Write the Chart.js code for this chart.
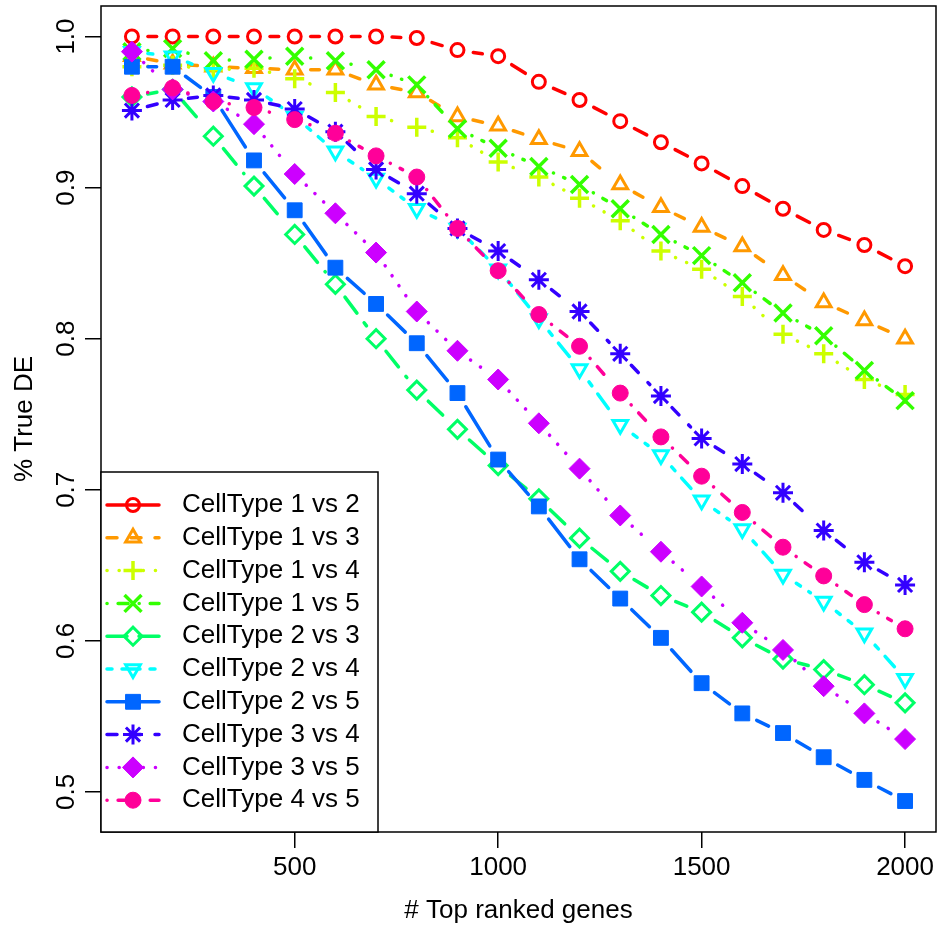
<!DOCTYPE html>
<html>
<head>
<meta charset="utf-8">
<script src="https://cdn.jsdelivr.net/npm/chart.js@4.4.1/dist/chart.umd.min.js"></script>
<style>
  html, body { margin: 0; padding: 0; background: #fff; }
  #wrap { width: 939px; height: 930px; }
</style>
</head>
<body>
<div id="wrap"><canvas id="chart" width="939" height="930"></canvas></div>
<script>
// x values: number of top ranked genes
const GENES = [100, 200, 300, 400, 500, 600, 700, 800, 900, 1000,
               1100, 1200, 1300, 1400, 1500, 1600, 1700, 1800, 1900, 2000];

const SERIES_NAMES = ['CellType 1 vs 2', 'CellType 1 vs 3', 'CellType 1 vs 4', 'CellType 1 vs 5',
                      'CellType 2 vs 3', 'CellType 2 vs 4', 'CellType 2 vs 5', 'CellType 3 vs 4',
                      'CellType 3 vs 5', 'CellType 4 vs 5'];

// % True DE per comparison
const CT_1_2 = [1.000, 1.000, 1.000, 1.000, 1.000, 1.000, 1.000, 0.999, 0.991, 0.987, 0.970, 0.958, 0.944, 0.930, 0.916, 0.901, 0.886, 0.872, 0.862, 0.848];
const CT_1_3 = [0.987, 0.982, 0.980, 0.979, 0.978, 0.978, 0.968, 0.963, 0.947, 0.941, 0.932, 0.924, 0.902, 0.887, 0.874, 0.861, 0.842, 0.824, 0.812, 0.800];
const CT_1_4 = [0.980, 0.981, 0.978, 0.979, 0.972, 0.963, 0.947, 0.940, 0.933, 0.917, 0.907, 0.893, 0.878, 0.858, 0.846, 0.828, 0.803, 0.790, 0.773, 0.763];
const CT_1_5 = [0.990, 0.992, 0.984, 0.985, 0.987, 0.984, 0.978, 0.968, 0.939, 0.926, 0.914, 0.902, 0.886, 0.869, 0.855, 0.837, 0.817, 0.802, 0.779, 0.759];
const CT_2_3 = [0.960, 0.965, 0.934, 0.901, 0.869, 0.836, 0.800, 0.766, 0.740, 0.716, 0.694, 0.668, 0.646, 0.630, 0.619, 0.602, 0.588, 0.581, 0.571, 0.559];
const CT_2_4 = [0.990, 0.987, 0.976, 0.966, 0.947, 0.924, 0.906, 0.886, 0.873, 0.846, 0.813, 0.780, 0.743, 0.723, 0.693, 0.674, 0.644, 0.626, 0.605, 0.575];
const CT_2_5 = [0.980, 0.980, 0.960, 0.918, 0.885, 0.847, 0.823, 0.797, 0.764, 0.720, 0.689, 0.654, 0.628, 0.602, 0.572, 0.552, 0.539, 0.523, 0.508, 0.494];
const CT_3_4 = [0.951, 0.958, 0.961, 0.958, 0.952, 0.937, 0.912, 0.896, 0.873, 0.858, 0.839, 0.818, 0.790, 0.762, 0.734, 0.717, 0.698, 0.673, 0.652, 0.637];
const CT_3_5 = [0.990, 0.965, 0.957, 0.942, 0.909, 0.883, 0.857, 0.818, 0.792, 0.773, 0.744, 0.714, 0.683, 0.659, 0.636, 0.612, 0.594, 0.570, 0.552, 0.535];
const CT_4_5 = [0.961, 0.966, 0.957, 0.953, 0.945, 0.936, 0.921, 0.907, 0.873, 0.845, 0.816, 0.795, 0.764, 0.735, 0.709, 0.685, 0.662, 0.643, 0.624, 0.608];

const SERIES_VALUES = [CT_1_2, CT_1_3, CT_1_4, CT_1_5, CT_2_3, CT_2_4, CT_2_5, CT_3_4, CT_3_5, CT_4_5];

const X_TICKS = [500, 1000, 1500, 2000];
const Y_TICKS = [0.5, 0.6, 0.7, 0.8, 0.9, 1.0];

// rainbow(10) colours, R line types and symbols
const COLORS = ['#FF0000', '#FF9900', '#CCFF00', '#33FF00', '#00FF66',
                '#00FFFF', '#0066FF', '#3300FF', '#CC00FF', '#FF0099'];
const SOLID = [], DASHED = [10, 14], DOTTED = [0.1, 12], DOTDASH = [0.1, 11, 10, 11],
      LONGDASH = [20, 12], TWODASH = [5, 10, 18, 10];
const DASHES = [SOLID, DASHED, DOTTED, DOTDASH, LONGDASH, TWODASH, SOLID, DASHED, DOTTED, DOTDASH];
const MARKERS = [
  { style: 'circle',   radius: 6.5, border: 3,   filled: false, rot: 0 },
  { style: 'triangle', radius: 8.5, border: 3,   filled: false, rot: 0 },
  { style: 'cross',    radius: 9.5, border: 3.5, filled: false, rot: 0 },
  { style: 'crossRot', radius: 12,  border: 3.5, filled: false, rot: 0 },
  { style: 'rectRot',  radius: 9,   border: 3,   filled: false, rot: 0 },
  { style: 'triangle', radius: 8.5, border: 3,   filled: false, rot: 180 },
  { style: 'rect',     radius: 10.5, border: 1,  filled: true,  rot: 0 },
  { style: 'star',     radius: 10,  border: 3,   filled: false, rot: 0 },
  { style: 'rectRot',  radius: 10.5, border: 1,  filled: true,  rot: 0 },
  { style: 'circle',   radius: 8,   border: 1,   filled: true,  rot: 0 }
];
const POINT_GAP = 16; // R type="b": line stops short of each point

Chart.defaults.font.family = '"Liberation Sans", Arial, Helvetica, sans-serif';
Chart.defaults.font.size = 26;
Chart.defaults.color = '#000';

// dash pattern for one segment: blank gap at both ends, base pattern restarting in between
function segmentDash(base, len) {
  const avail = len - 2 * POINT_GAP;
  const big = 10000;
  if (avail <= 0) return null;
  let arr;
  if (!base.length) {
    arr = [avail, big];
  } else {
    arr = [];
    let pos = 0, k = 0;
    while (pos < avail) {
      const v = base[k % base.length];
      if (k % 2 === 0) arr.push(Math.min(v, avail - pos));
      else arr.push(v);
      pos += v;
      k++;
    }
    if (arr.length % 2 === 1) arr.push(big);
    else arr[arr.length - 1] += big;
  }
  const period = arr.reduce((s, v) => s + v, 0);
  return { dash: arr, offset: period - POINT_GAP };
}

const datasets = SERIES_NAMES.map((name, i) => {
  const m = MARKERS[i];
  const base = DASHES[i];
  const segInfo = c => segmentDash(base, Math.hypot(c.p1.x - c.p0.x, c.p1.y - c.p0.y));
  return {
    label: name,
    data: GENES.map((g, j) => ({ x: g, y: SERIES_VALUES[i][j] })),
    borderColor: COLORS[i],
    borderWidth: 3.5,
    borderDash: base,
    borderCapStyle: 'round',
    borderJoinStyle: 'round',
    fill: false,
    tension: 0,
    clip: false,
    segment: {
      borderDash: c => { const s = segInfo(c); return s ? s.dash : [1, 10000]; },
      // tiny index term keeps neighbouring segments from being merged into one path
      borderDashOffset: c => { const s = segInfo(c); return (s ? s.offset : 0) + c.p0DataIndex * 1e-5; },
      borderColor: c => segInfo(c) ? COLORS[i] : 'rgba(0,0,0,0)'
    },
    pointStyle: m.style,
    pointRadius: m.radius,
    pointBorderWidth: m.border,
    pointRotation: m.rot,
    pointBorderColor: COLORS[i],
    pointBackgroundColor: m.filled ? COLORS[i] : 'rgba(0,0,0,0)',
    order: SERIES_NAMES.length - i
  };
});

// box around plot + legend in the lower left corner, R style
const boxAndLegend = {
  id: 'boxAndLegend',
  afterDatasetsDraw(chart) {
    const ctx = chart.ctx;
    const a = chart.chartArea;
    ctx.save();
    ctx.lineWidth = 1.5;
    ctx.strokeStyle = '#000';
    ctx.strokeRect(a.left, a.top, a.right - a.left, a.bottom - a.top);

    const lx = a.left, ly = 472, lr = 378, lb = a.bottom;
    ctx.fillStyle = '#fff';
    ctx.fillRect(lx, ly, lr - lx, lb - ly);
    ctx.strokeRect(lx, ly, lr - lx, lb - ly);

    chart.data.datasets.forEach((ds, i) => {
      const y = 505 + i * 32.8;
      ctx.save();
      ctx.strokeStyle = ds.borderColor;
      ctx.lineWidth = ds.borderWidth;
      ctx.lineCap = 'round';
      ctx.setLineDash(ds.borderDash);
      ctx.beginPath();
      ctx.moveTo(107, y);
      ctx.lineTo(159, y);
      ctx.stroke();
      ctx.restore();

      ctx.save();
      ctx.setLineDash([]);
      ctx.fillStyle = ds.pointBackgroundColor;
      ctx.strokeStyle = ds.pointBorderColor;
      ctx.lineWidth = ds.pointBorderWidth;
      Chart.helpers.drawPoint(ctx, {
        pointStyle: ds.pointStyle,
        radius: ds.pointRadius,
        rotation: ds.pointRotation,
        borderWidth: ds.pointBorderWidth
      }, 133, y);
      ctx.restore();

      ctx.fillStyle = '#000';
      ctx.font = '26px "Liberation Sans", Arial, sans-serif';
      ctx.textBaseline = 'middle';
      ctx.textAlign = 'left';
      ctx.fillText(ds.label, 182, y);
    });
    ctx.restore();
  }
};

new Chart(document.getElementById('chart'), {
  type: 'line',
  data: { datasets: datasets },
  options: {
    responsive: false,
    animation: false,
    layout: { autoPadding: false, padding: { top: 6, right: 3, left: 0, bottom: 0 } },
    plugins: {
      legend: { display: false },
      tooltip: { enabled: false }
    },
    scales: {
      x: {
        type: 'linear',
        min: 24,
        max: 2076,
        afterBuildTicks: s => { s.ticks = X_TICKS.map(v => ({ value: v })); },
        afterFit: s => { s.height = 98; s.paddingLeft = 0; s.paddingRight = 0; },
        grid: { drawOnChartArea: false, drawTicks: true, tickLength: 16, color: '#000', lineWidth: 1.5 },
        border: { display: false },
        ticks: { padding: 4, maxRotation: 0, font: { size: 26 }, callback: v => String(v) },
        title: { display: true, text: '# Top ranked genes', font: { size: 26 }, padding: { top: 0, bottom: 4 } }
      },
      y: {
        type: 'linear',
        min: 0.4735,
        max: 1.0202,
        afterBuildTicks: s => { s.ticks = Y_TICKS.map(v => ({ value: v })); },
        afterFit: s => { s.width = 101; s.paddingTop = 0; s.paddingBottom = 0; },
        grid: { drawOnChartArea: false, drawTicks: true, tickLength: 16, color: '#000', lineWidth: 1.5 },
        border: { display: false },
        ticks: { padding: 0, minRotation: 90, maxRotation: 90, crossAlign: 'center', font: { size: 26 },
                 callback: v => v.toFixed(1) },
        title: { display: true, text: '% True DE', font: { size: 26 }, padding: { top: 9, bottom: 0 } }
      }
    }
  },
  plugins: [boxAndLegend]
});
</script>
</body>
</html>
